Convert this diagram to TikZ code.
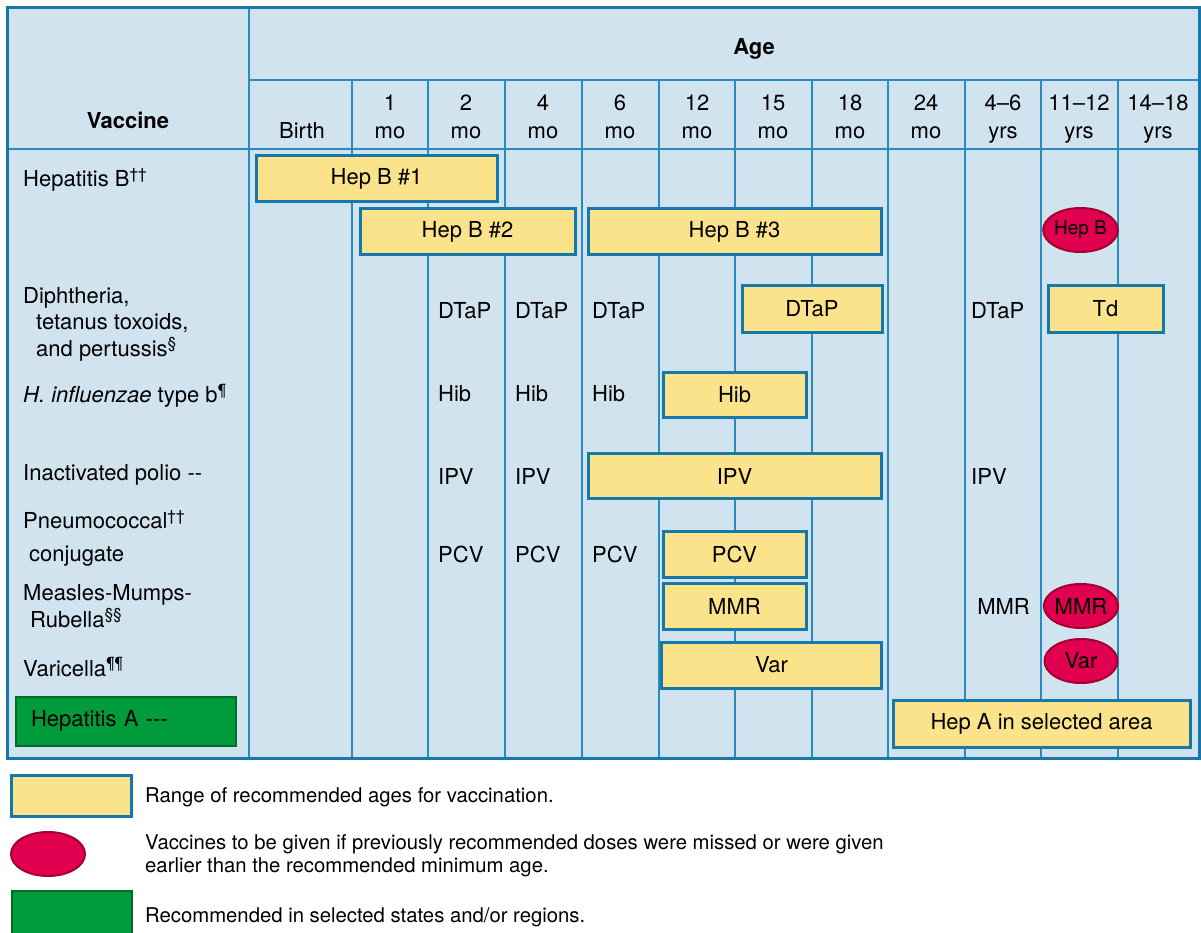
\documentclass[tikz,border=0pt]{standalone}
\usepackage{fontspec}
\setmainfont{TeX Gyre Heros}
\usepackage{xcolor}
\usetikzlibrary{shapes.geometric}

\definecolor{tablebg}{HTML}{D1E3EF}
\definecolor{gridline}{HTML}{2A8BBF}
\definecolor{frameline}{HTML}{1777A8}
\definecolor{barfill}{HTML}{FAE38A}
\definecolor{barline}{HTML}{1479A8}
\definecolor{missred}{HTML}{E0004F}
\definecolor{missline}{HTML}{A3002F}
\definecolor{selgreen}{HTML}{009B3A}
\definecolor{selline}{HTML}{006E2A}

\begin{document}
\begin{tikzpicture}[
        x=1pt, y=-1pt,
        every node/.style={font=\fontsize{22}{26.5}\selectfont, text=black},
        rangebar/.style={
            rectangle,
            draw=barline,
            fill=barfill,
            line width=3pt,
            inner sep=0pt
        },
        catchup/.style={
            ellipse,
            draw=missline,
            fill=missred,
            line width=2pt,
            inner sep=0pt,
            minimum width=73pt,
            minimum height=44pt
        },
        dose/.style={anchor=west, inner sep=0pt},
        vaccine/.style={anchor=west, align=left, inner sep=0pt},
        agehead/.style={align=center, inner sep=0pt, font=\fontsize{22}{28}\selectfont},
        legendtext/.style={anchor=west, align=left, inner sep=0pt, font=\fontsize{20.3}{23.5}\selectfont}
    ]
    \useasboundingbox (0,0) rectangle (1201,933);

    % Table grid
    \fill[tablebg] (7,8) rectangle (1199,758);
    \draw[gridline, line width=1.5pt] (249,80) -- (1199,80);
    \draw[gridline, line width=1.5pt] (7,149) -- (1199,149);
    \draw[gridline, line width=1.5pt] (249,8) -- (249,758);
    \foreach \gx in {352,428,505,582,659,735,812,888,965,1041,1118}
        \draw[gridline, line width=1.5pt] (\gx,80) -- (\gx,758);
    \draw[frameline, line width=3pt] (7,8) rectangle (1199,758);

    % Headers
    \node[font=\bfseries\fontsize{22}{26.5}\selectfont] (vachead) at (128,120) {Vaccine};
    \node[font=\bfseries\fontsize{22}{26.5}\selectfont] (agetitle) at (754,49) {Age};
    \node[agehead] (agebirth) at (302,132.5) {\strut Birth};
    \foreach \cx/\num/\unit [count=\i] in {390/1/mo, 466/2/mo, 543/4/mo, 620/6/mo,
            697/12/mo, 773/15/mo, 850/18/mo, 926/24/mo, 1003/4--6/yrs,
            1079/11--12/yrs, 1158/14--18/yrs}
        \node[agehead] (age\i) at (\cx,119) {\strut\num\\\strut\unit};

    % Vaccine labels
    \node[vaccine] (vhepb) at (23,180) {Hepatitis B\textsuperscript{††}};
    \node[vaccine] (vdtp) at (23,324) {Diphtheria,\\\hspace*{13pt}tetanus toxoids,\\\hspace*{13pt}and pertussis\textsuperscript{§}};
    \node[vaccine] (vhib) at (23,396) {\textit{H. influenzae} type b\textsuperscript{¶}};
    \node[vaccine] (vipv) at (23,475) {Inactivated polio -{}-};
    \node[vaccine] (vpcv) at (23,538) {Pneumococcal\textsuperscript{††}\\[6pt]\hspace*{6pt}conjugate};
    \node[vaccine] (vmmr) at (23,606) {Measles-Mumps-\\\hspace*{7pt}Rubella\textsuperscript{§§}};
    \node[vaccine] (vvar) at (23,667) {Varicella\textsuperscript{¶¶}};
    \node[rectangle, draw=selline, fill=selgreen, line width=2pt, inner xsep=15pt,
          text width=190pt, minimum height=49pt, align=left] (vhepa) at (126,721) {Hepatitis A -{}-{}-};

    % Recommended ranges
    \node[rangebar, minimum width=241pt, minimum height=46pt] (hepb1) at (376.5,179) {Hep B \#1};
    \node[rangebar, minimum width=215pt, minimum height=46pt] (hepb2) at (467.5,232) {Hep B \#2};
    \node[rangebar, minimum width=293pt, minimum height=46pt] (hepb3) at (734.5,232) {Hep B \#3};
    \node[rangebar, minimum width=140pt, minimum height=47pt] (dtap) at (812,308.5) {DTaP};
    \node[rangebar, minimum width=115pt, minimum height=47pt] (td) at (1105.5,308.5) {Td};
    \node[rangebar, minimum width=143pt, minimum height=45pt] (hib) at (734.5,394.5) {Hib};
    \node[rangebar, minimum width=293pt, minimum height=45pt] (ipv) at (734.5,476) {IPV};
    \node[rangebar, minimum width=143pt, minimum height=46pt] (pcv) at (734.5,554) {PCV};
    \node[rangebar, minimum width=143pt, minimum height=46pt] (mmr) at (734.5,606.5) {MMR};
    \node[rangebar, minimum width=220pt, minimum height=46pt] (var) at (771.5,665) {Var};
    \node[rangebar, minimum width=297pt, minimum height=47pt] (hepa) at (1041.5,723.5) {Hep A in selected area};

    % Single doses
    \node[dose] (dtap2) at (438,311) {DTaP};
    \node[dose] (dtap4) at (515,311) {DTaP};
    \node[dose] (dtap6) at (592,311) {DTaP};
    \node[dose] (dtap46) at (971,311) {DTaP};
    \node[dose] (hib2) at (438,394) {Hib};
    \node[dose] (hib4) at (515,394) {Hib};
    \node[dose] (hib6) at (592,394) {Hib};
    \node[dose] (ipv2) at (438,476) {IPV};
    \node[dose] (ipv4) at (515,476) {IPV};
    \node[dose] (ipv46) at (971,476) {IPV};
    \node[dose] (pcv2) at (438,554) {PCV};
    \node[dose] (pcv4) at (515,554) {PCV};
    \node[dose] (pcv6) at (592,554) {PCV};
    \node[dose, anchor=east] (mmr46) at (1030,606) {MMR};

    % Catch-up doses
    \node[catchup, font=\fontsize{19}{23}\selectfont] (hepbcu) at (1080.5,230) {Hep B};
    \node[catchup] (mmrcu) at (1081,606) {MMR};
    \node[catchup] (varcu) at (1081,661) {Var};

    % Legend
    \node[rangebar, line width=2.5pt, minimum width=120pt, minimum height=41pt] (legrange) at (71.5,796) {};
    \node[catchup, minimum width=74pt] (legmiss) at (48,854) {};
    \node[rectangle, draw=selline, fill=selgreen, line width=2pt, minimum width=120pt, minimum height=44pt] (legsel) at (71.5,913) {};
    \node[legendtext] (legrangetxt) at (145,797) {Range of recommended ages for vaccination.};
    \node[legendtext] (legmisstxt) at (145,856) {Vaccines to be given if previously recommended doses were missed or were given\\earlier than the recommended minimum age.};
    \node[legendtext] (legseltxt) at (145,917) {Recommended in selected states and/or regions.};

\end{tikzpicture}
\end{document}
